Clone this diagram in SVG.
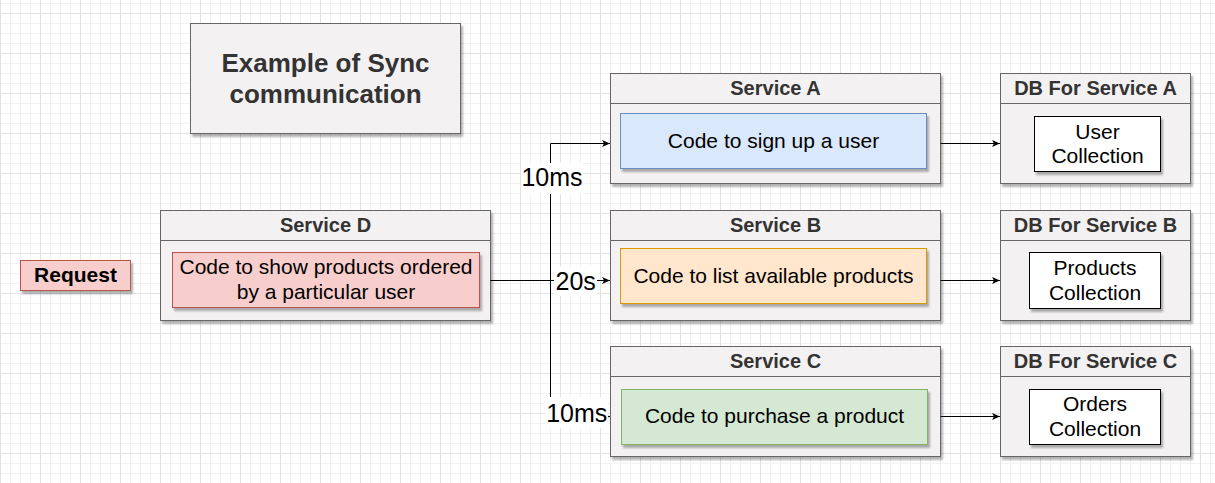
<svg xmlns="http://www.w3.org/2000/svg" width="1215" height="483" viewBox="0 0 1215 483">
<style>
text{font-family:"Liberation Sans",Arial,Helvetica,sans-serif;text-anchor:middle}
.box{fill:#f3f1f1;stroke:#666666;stroke-width:1}
.hdr{stroke:#666666;stroke-width:1}
.ht{font-size:20px;font-weight:bold;fill:#333333}
.t{font-size:21px;fill:#000000}
.lbl{font-size:25px;fill:#000000}
.sh{filter:url(#shadow)}
.edge{fill:none;stroke:#000000;stroke-width:1}
.lbg{fill:#ffffff}
</style>
<defs>
<pattern id="grid" x="0" y="13" width="40" height="40" patternUnits="userSpaceOnUse">
<path d="M10.5,0V40M20.5,0V40M30.5,0V40M0,10.5H40M0,20.5H40M0,30.5H40" stroke="#f1f1f1" stroke-width="1" fill="none"/>
<path d="M0.5,0V40M0,0.5H40" stroke="#e2e2e2" stroke-width="1" fill="none"/>
</pattern>
<filter id="shadow" x="-10%" y="-10%" width="130%" height="140%">
<feDropShadow dx="2" dy="3" stdDeviation="0.8" flood-color="#000000" flood-opacity="0.3"/>
</filter>
<marker id="arr" markerWidth="9" markerHeight="8" refX="8" refY="4" orient="auto" markerUnits="userSpaceOnUse">
<path d="M0,0.5 L8,4 L0,7.5 L2,4 Z" fill="#000000"/>
</marker>
</defs>
<rect x="0" y="0" width="1215" height="483" fill="#ffffff"/>
<rect x="0" y="0" width="1215" height="483" fill="url(#grid)"/>

<g id="title">
<rect class="box sh" x="190.5" y="23.5" width="270" height="110"/>
<text x="325.5" y="72" style="font-size:26px;font-weight:bold;fill:#333333">Example of Sync</text>
<text x="325.5" y="103" style="font-size:26px;font-weight:bold;fill:#333333">communication</text>
</g>

<g id="request">
<rect class="sh" x="20.5" y="260.5" width="110" height="30" fill="#f8cecc" stroke="#b85450"/>
<text x="75.5" y="282" style="font-size:21px;font-weight:bold;fill:#000000">Request</text>
</g>

<g id="service-d">
<rect class="box sh" x="160.5" y="210.5" width="330" height="110"/>
<line class="hdr" x1="160.5" y1="240.5" x2="490.5" y2="240.5"/>
<text class="ht" x="325.5" y="232">Service D</text>
<rect class="sh" x="172.5" y="252.5" width="307" height="55" fill="#f8cecc" stroke="#b85450"/>
<text class="t" x="326" y="274">Code to show products ordered</text>
<text class="t" x="326" y="299">by a particular user</text>
</g>

<g id="service-a">
<rect class="box sh" x="610.5" y="73.5" width="330" height="110"/>
<line class="hdr" x1="610.5" y1="103.5" x2="940.5" y2="103.5"/>
<text class="ht" x="775.5" y="94.5">Service A</text>
<rect class="sh" x="620.5" y="113.5" width="306" height="55" fill="#dae8fc" stroke="#6c8ebf"/>
<text class="t" x="773.5" y="147.5">Code to sign up a user</text>
</g>

<g id="service-b">
<rect class="box sh" x="610.5" y="210.5" width="330" height="110"/>
<line class="hdr" x1="610.5" y1="240.5" x2="940.5" y2="240.5"/>
<text class="ht" x="775.5" y="232">Service B</text>
<rect class="sh" x="620.5" y="248.5" width="306" height="55" fill="#ffe6cc" stroke="#d79b00"/>
<text class="t" x="773.5" y="283">Code to list available products</text>
</g>

<g id="service-c">
<rect class="box sh" x="610.5" y="346.5" width="330" height="110"/>
<line class="hdr" x1="610.5" y1="376.5" x2="940.5" y2="376.5"/>
<text class="ht" x="775.5" y="368">Service C</text>
<rect class="sh" x="621.5" y="389.5" width="306" height="55" fill="#d5e8d4" stroke="#82b366"/>
<text class="t" x="774.5" y="423">Code to purchase a product</text>
</g>

<g id="db-a">
<rect class="box sh" x="1000.5" y="73.5" width="190" height="110"/>
<line class="hdr" x1="1000.5" y1="103.5" x2="1190.5" y2="103.5"/>
<text class="ht" x="1095.5" y="94.5">DB For Service A</text>
<rect class="sh" x="1034.5" y="116.5" width="126" height="55" fill="#ffffff" stroke="#000000"/>
<text class="t" x="1097.5" y="138.5">User</text>
<text class="t" x="1097.5" y="163">Collection</text>
</g>

<g id="db-b">
<rect class="box sh" x="1000.5" y="210.5" width="190" height="110"/>
<line class="hdr" x1="1000.5" y1="240.5" x2="1190.5" y2="240.5"/>
<text class="ht" x="1095.5" y="232">DB For Service B</text>
<rect class="sh" x="1029.5" y="252.5" width="131" height="56" fill="#ffffff" stroke="#000000"/>
<text class="t" x="1095" y="274.5">Products</text>
<text class="t" x="1095" y="299.5">Collection</text>
</g>

<g id="db-c">
<rect class="box sh" x="1000.5" y="346.5" width="190" height="110"/>
<line class="hdr" x1="1000.5" y1="376.5" x2="1190.5" y2="376.5"/>
<text class="ht" x="1095.5" y="368">DB For Service C</text>
<rect class="sh" x="1029.5" y="389.5" width="131" height="55" fill="#ffffff" stroke="#000000"/>
<text class="t" x="1095" y="411">Orders</text>
<text class="t" x="1095" y="435.5">Collection</text>
</g>

<g id="connectors">
<path class="edge" d="M490.5,280.5 H550.5 V143.5 H610" marker-end="url(#arr)"/>
<path class="edge" d="M490.5,280.5 H610" marker-end="url(#arr)"/>
<path class="edge" d="M550.5,280.5 V416.5 H610" marker-end="url(#arr)"/>
<path class="edge" d="M940.5,143.5 H1000" marker-end="url(#arr)"/>
<path class="edge" d="M940.5,280.5 H1000" marker-end="url(#arr)"/>
<path class="edge" d="M940.5,416.5 H1000" marker-end="url(#arr)"/>
<rect class="lbg" x="521" y="163" width="62" height="31"/>
<text class="lbl" x="552" y="186">10ms</text>
<rect class="lbg" x="554" y="267" width="43" height="29"/>
<text class="lbl" x="575.7" y="290">20s</text>
<rect class="lbg" x="545" y="397" width="63" height="31"/>
<text class="lbl" x="576.7" y="422">10ms</text>
</g>
</svg>
